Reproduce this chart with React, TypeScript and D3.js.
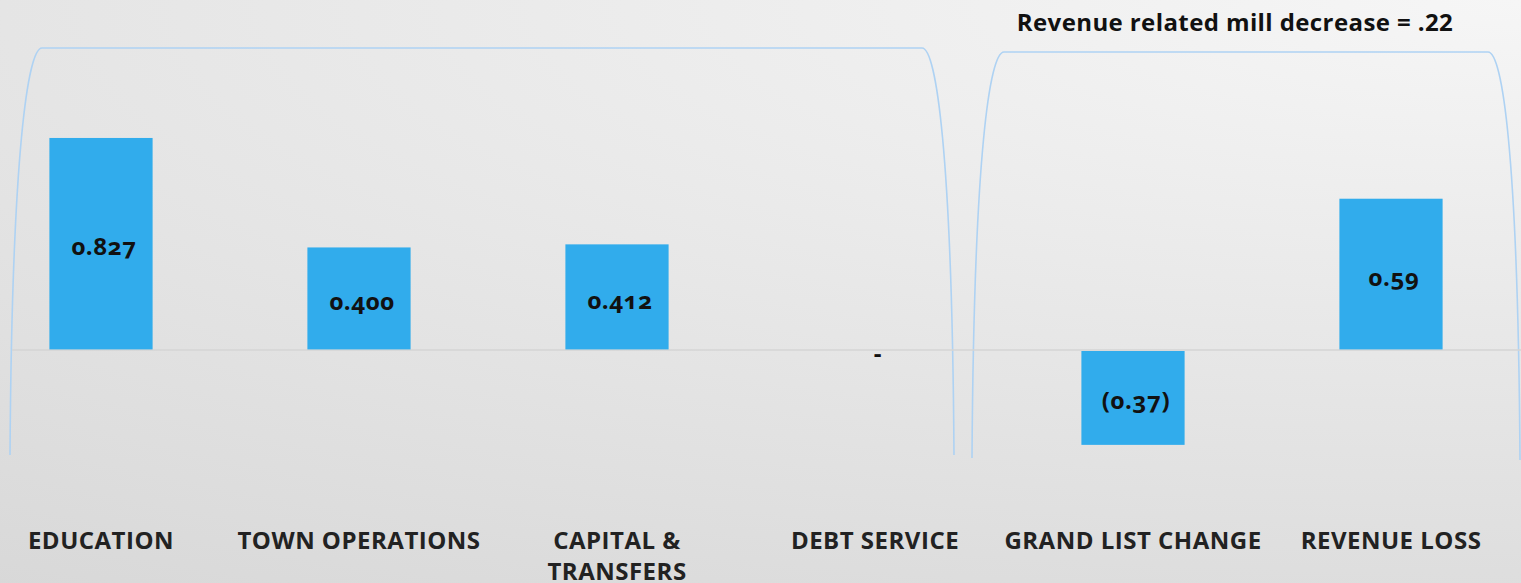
import { useRef, useEffect } from "react";
import * as d3 from "d3";

const categories = [
  "EDUCATION",
  "TOWN OPERATIONS",
  "CAPITAL & TRANSFERS",
  "DEBT SERVICE",
  "GRAND LIST CHANGE",
  "REVENUE LOSS",
];
const values = [0.827, 0.4, 0.412, 0, -0.37, 0.59];
const valueLabels = ["0.827", "0.400", "0.412", "-", "(0.37)", "0.59"];
const categoryLines = [
  ["EDUCATION"],
  ["TOWN OPERATIONS"],
  ["CAPITAL &", "TRANSFERS"],
  ["DEBT SERVICE"],
  ["GRAND LIST CHANGE"],
  ["REVENUE LOSS"],
];
const title = "Revenue related mill decrease = .22";

const W = 1521;
const H = 583;
const FONT = "'Open Sans', Lato, sans-serif";

const App = () => {
  const ref = useRef<SVGSVGElement>(null);

  useEffect(() => {
    if (!ref.current) return;
    const svg = d3.select(ref.current);
    svg.selectAll("*").remove();

    svg.attr("width", W).attr("height", H);

    // background: light in the top-right corner, darker towards bottom-left
    const defs = svg.append("defs");
    const grad = defs
      .append("radialGradient")
      .attr("id", "bg")
      .attr("gradientUnits", "userSpaceOnUse")
      .attr("cx", W)
      .attr("cy", 0)
      .attr("r", 810)
      .attr("gradientTransform", `translate(${W},0) scale(3.75,1) translate(${-W},0)`);
    grad.append("stop").attr("offset", "0%").attr("stop-color", "#f6f6f6");
    grad.append("stop").attr("offset", "100%").attr("stop-color", "#d4d4d4");
    svg.append("rect").attr("width", W).attr("height", H).attr("fill", "url(#bg)");

    const x = d3
      .scaleBand<string>()
      .domain(categories)
      .range([-28, 1520])
      .paddingInner(0.6)
      .paddingOuter(0.3);

    const y = d3.scaleLinear().domain([-0.4, 0.9]).range([452.56, 119.24]);

    // brackets
    const bracket = (x0: number, x1: number, top: number, b0: number, b1: number) => {
      const p = d3.path();
      p.moveTo(x0, b0);
      p.bezierCurveTo(x0 + 2, 150, x0 + 18, top, x0 + 32, top);
      p.lineTo(x1 - 32, top);
      p.bezierCurveTo(x1 - 18, top, x1 - 2, 150, x1, b1);
      return p.toString();
    };
    svg
      .append("path")
      .attr("d", bracket(10, 954, 48, 455, 455))
      .attr("fill", "none")
      .attr("stroke", "#aed2f3")
      .attr("stroke-width", 1.6);
    svg
      .append("path")
      .attr("d", bracket(972, 1520, 52, 458, 460))
      .attr("fill", "none")
      .attr("stroke", "#aed2f3")
      .attr("stroke-width", 1.6);

    // zero line
    svg
      .append("line")
      .attr("x1", 12)
      .attr("x2", W)
      .attr("y1", y(0))
      .attr("y2", y(0))
      .attr("stroke", "#d4d4d4")
      .attr("stroke-width", 1.5);

    // bars
    svg
      .selectAll("rect.bar")
      .data(values)
      .enter()
      .append("rect")
      .attr("class", "bar")
      .attr("x", (_, i) => x(categories[i])!)
      .attr("width", x.bandwidth())
      .attr("y", (d) => (d >= 0 ? y(d) : y(0) + 1))
      .attr("height", (d) => (d >= 0 ? y(0) - 0.6 - y(d) : y(d) - y(0) - 1))
      .attr("fill", "#31acec");

    // value labels
    svg
      .selectAll("text.val")
      .data(values)
      .enter()
      .append("text")
      .attr("class", "val")
      .attr("x", (_, i) => x(categories[i])! + x.bandwidth() / 2 + 3)
      .attr("y", (d) => (d === 0 ? y(0) + 6 : (y(d) + y(0)) / 2 + 5))
      .attr("text-anchor", "middle")
      .attr("dominant-baseline", "middle")
      .style("font-family", FONT)
      .style("font-weight", 700)
      .style("font-size", "24px")
      .style("letter-spacing", "0.6px")
      .style("font-variant-numeric", "oldstyle-nums")
      .style("fill", "#111")
      .text((_, i) => valueLabels[i]);

    // category labels
    const cat = svg
      .selectAll("text.cat")
      .data(categoryLines)
      .enter()
      .append("text")
      .attr("class", "cat")
      .attr("text-anchor", "middle")
      .style("font-family", FONT)
      .style("font-weight", 700)
      .style("font-size", "24px")
      .style("letter-spacing", "0.5px")
      .style("fill", "#222");
    cat
      .selectAll("tspan")
      .data((d, i) => d.map((line) => ({ line, i })))
      .enter()
      .append("tspan")
      .attr("x", (d) => x(categories[d.i])! + x.bandwidth() / 2)
      .attr("y", (_, j) => 549 + j * 31)
      .text((d) => d.line);

    // title
    svg
      .append("text")
      .attr("x", 1235)
      .attr("y", 31)
      .attr("text-anchor", "middle")
      .style("font-family", FONT)
      .style("font-weight", 700)
      .style("font-size", "24px")
      .style("letter-spacing", "0.4px")
      .style("fill", "#111")
      .text(title);
  }, []);

  return (
    <svg
      ref={ref}
      style={{ position: "absolute", left: 0, top: 0, display: "block" }}
    />
  );
};

export default App;
